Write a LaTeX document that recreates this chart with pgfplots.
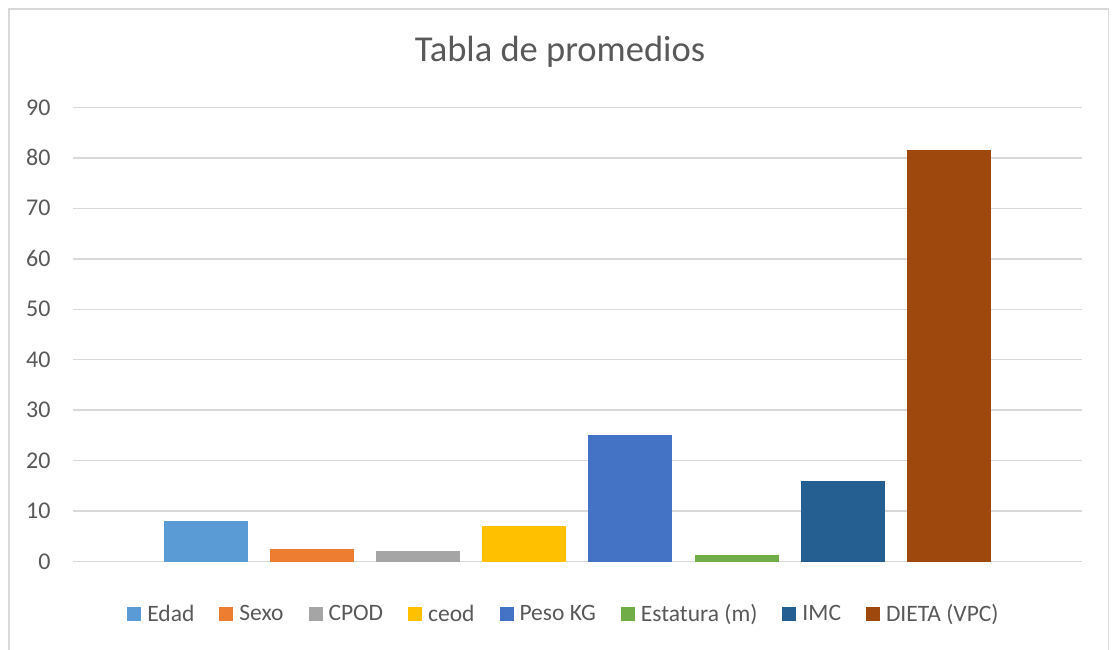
\documentclass[border=0pt]{standalone}
\usepackage{pgfplots}
\pgfplotsset{compat=1.18}
\usepackage{fontspec}
\setmainfont{Carlito}
\definecolor{txt}{HTML}{595959}
\definecolor{gridgray}{HTML}{D9D9D9}
\definecolor{c1}{HTML}{5B9BD5}
\definecolor{c2}{HTML}{ED7D31}
\definecolor{c3}{HTML}{A5A5A5}
\definecolor{c4}{HTML}{FFC000}
\definecolor{c5}{HTML}{4472C4}
\definecolor{c6}{HTML}{70AD47}
\definecolor{c7}{HTML}{255E91}
\definecolor{c8}{HTML}{9E480E}
\begin{document}
\begin{tikzpicture}[x=1pt,y=1pt]
\useasboundingbox (0,0) rectangle (1113,650);
\fill[white] (0,0) rectangle (1113,650);
\draw[color=gridgray, line width=1.5pt] (9,-20) rectangle (1108.5,641);
\node[text=txt, font=\fontsize{36.5}{40}\selectfont, anchor=base] at (560,588) {Tabla de promedios};
\begin{axis}[
  at={(73pt,88.3pt)}, anchor=south west,
  scale only axis, width=1009pt, height=454.4pt,
  xmin=-1.2535, xmax=8.256, ymin=0, ymax=90,
  ytick={0,10,...,90}, xtick=\empty,
  axis line style={draw=none},
  ymajorgrids, grid style={color=gridgray, line width=1.5pt},
  major tick length=0pt,
  ybar, bar width=0.792, bar shift=0pt,
  tick label style={text=txt, font=\fontsize{24}{26}\selectfont},
  /pgf/number format/assume math mode=true,
  yticklabel style={xshift=-19pt},
  legend style={at={(0.4866,-0.115)}, anchor=center, draw=none, fill=none,
    font=\fontsize{23.5}{26}\selectfont, text=txt,
    /tikz/every odd column/.append style={column sep=4pt},
    /tikz/every even column/.append style={column sep=23pt}},
  legend columns=-1,
  legend image code/.code={\fill[#1] (0pt,-7pt) rectangle (14pt,7pt);},
]
\addplot[fill=c1, draw=none] coordinates {(0,8.06)};
\addlegendentry{Edad}
\addplot[fill=c2, draw=none] coordinates {(1,2.5)};
\addlegendentry{Sexo}
\addplot[fill=c3, draw=none] coordinates {(2,2.12)};
\addlegendentry{CPOD}
\addplot[fill=c4, draw=none] coordinates {(3,7.05)};
\addlegendentry{ceod}
\addplot[fill=c5, draw=none] coordinates {(4,25.1)};
\addlegendentry{Peso KG}
\addplot[fill=c6, draw=none] coordinates {(5,1.33)};
\addlegendentry{Estatura (m)}
\addplot[fill=c7, draw=none] coordinates {(6,16.0)};
\addlegendentry{IMC}
\addplot[fill=c8, draw=none] coordinates {(7,81.5)};
\addlegendentry{DIETA (VPC)}
\end{axis}
\end{tikzpicture}
\end{document}
